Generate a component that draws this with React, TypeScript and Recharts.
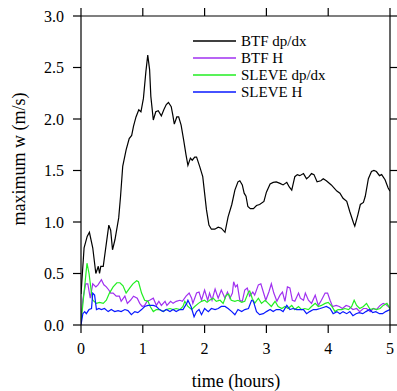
import React from "react";
import { LineChart, Line, XAxis, YAxis } from "recharts";

// BTF dp/dx (black)
const btfDpdxTime = [
  0, 0.05, 0.1, 0.136, 0.19, 0.24, 0.28, 0.3, 0.32, 0.36, 0.45, 0.48, 0.51, 0.55, 0.61, 0.64, 0.675,
  0.73, 0.78, 0.82, 0.85, 0.89, 0.935, 0.97, 1.01, 1.05, 1.08, 1.11, 1.13, 1.17, 1.21, 1.25, 1.3,
  1.34, 1.38, 1.415, 1.46, 1.485, 1.51, 1.55, 1.58, 1.62, 1.66, 1.7, 1.73, 1.77, 1.8, 1.84, 1.87,
  1.92, 1.97, 2.0, 2.03, 2.07, 2.11, 2.165, 2.22, 2.27, 2.33, 2.38, 2.44, 2.49, 2.54, 2.57, 2.61,
  2.64, 2.67, 2.7, 2.74, 2.79, 2.84, 2.89, 2.96, 3.0, 3.06, 3.11, 3.16, 3.22, 3.27, 3.33, 3.37,
  3.41, 3.46, 3.5, 3.54, 3.6, 3.65, 3.69, 3.73, 3.77, 3.82, 3.88, 3.92, 3.97, 4.05, 4.14, 4.19,
  4.24, 4.3, 4.35, 4.41, 4.43, 4.48, 4.52, 4.57, 4.6, 4.65, 4.7, 4.74, 4.78, 4.83, 4.865, 4.92,
  4.97, 5.0,
];
const btfDpdxValue = [
  0.3, 0.75, 0.86, 0.9, 0.75, 0.5, 0.57, 0.5, 0.57, 0.57, 0.97, 0.92, 0.73, 0.83, 1.04, 1.25, 1.54,
  1.7, 1.81, 1.84, 1.93, 2.02, 2.09, 2.07, 2.2, 2.46, 2.62, 2.48, 2.22, 1.99, 2.07, 2.08, 2.03,
  2.09, 2.14, 2.16, 2.12, 2.04, 1.95, 2.02, 2.02, 1.94, 1.8, 1.65, 1.55, 1.62, 1.6, 1.63, 1.63,
  1.54, 1.44, 1.28, 1.12, 0.97, 0.93, 0.93, 0.95, 0.94, 0.9, 1.05, 1.17, 1.31, 1.39, 1.4, 1.36,
  1.28, 1.25, 1.15, 1.13, 1.13, 1.16, 1.17, 1.2, 1.29, 1.37, 1.385, 1.39, 1.375, 1.36, 1.385, 1.34,
  1.31, 1.44, 1.46, 1.45, 1.47, 1.42, 1.44, 1.47, 1.46, 1.39, 1.4, 1.42, 1.4, 1.36, 1.3, 1.28,
  1.23, 1.2, 1.1, 0.99, 0.96, 1.07, 1.17, 1.19, 1.25, 1.42, 1.49, 1.5, 1.49, 1.45, 1.46, 1.41,
  1.33, 1.3,
];

// BTF H (purple)
const btfHTime = [
  0, 0.03, 0.076, 0.11, 0.15, 0.19, 0.24, 0.275, 0.33, 0.37, 0.41, 0.45, 0.48, 0.52, 0.57, 0.62,
  0.65, 0.71, 0.75, 0.8, 0.85, 0.91, 0.95, 0.99, 1.03, 1.07, 1.11, 1.17, 1.22, 1.26, 1.3, 1.36,
  1.39, 1.45, 1.49, 1.54, 1.6, 1.64, 1.7, 1.75, 1.79, 1.81, 1.87, 1.91, 1.95, 2.0, 2.05, 2.08,
  2.12, 2.17, 2.22, 2.27, 2.33, 2.37, 2.41, 2.45, 2.47, 2.5, 2.53, 2.57, 2.61, 2.65, 2.69, 2.73,
  2.78, 2.81, 2.87, 2.91, 2.95, 2.99, 3.04, 3.08, 3.12, 3.17, 3.22, 3.26, 3.3, 3.34, 3.38, 3.42,
  3.46, 3.52, 3.55, 3.6, 3.63, 3.68, 3.73, 3.79, 3.84, 3.89, 3.95, 3.99, 4.03, 4.07, 4.13, 4.18,
  4.23, 4.29, 4.34, 4.4, 4.46, 4.51, 4.57, 4.62, 4.68, 4.73, 4.78, 4.84, 4.89, 4.93, 4.97, 5.0,
];
const btfHValue = [
  0.05, 0.25, 0.4, 0.4, 0.26, 0.4, 0.37, 0.39, 0.44, 0.39, 0.37, 0.34, 0.31, 0.31, 0.28, 0.28,
  0.23, 0.28, 0.21, 0.24, 0.28, 0.26, 0.21, 0.18, 0.19, 0.23, 0.24, 0.26, 0.19, 0.23, 0.19, 0.23,
  0.19, 0.23, 0.21, 0.23, 0.24, 0.23, 0.28, 0.31, 0.26, 0.21, 0.31, 0.32, 0.24, 0.34, 0.24, 0.31,
  0.24, 0.35, 0.26, 0.34, 0.26, 0.32, 0.26, 0.31, 0.42, 0.37, 0.39, 0.24, 0.23, 0.34, 0.36, 0.28,
  0.32, 0.29, 0.39, 0.4, 0.32, 0.24, 0.32, 0.4, 0.31, 0.23, 0.29, 0.32, 0.23, 0.37, 0.36, 0.24,
  0.23, 0.31, 0.26, 0.24, 0.31, 0.24, 0.21, 0.29, 0.19, 0.24, 0.31, 0.31, 0.24, 0.18, 0.19, 0.18,
  0.16, 0.19, 0.18, 0.15, 0.16, 0.13, 0.16, 0.16, 0.13, 0.16, 0.15, 0.19, 0.21, 0.2, 0.18, 0.16,
];

// SLEVE dp/dx (green)
const sleveDpdxTime = [
  0, 0.097, 0.13, 0.17, 0.19, 0.25, 0.3, 0.36, 0.41, 0.46, 0.52, 0.58, 0.63, 0.68, 0.73, 0.79,
  0.84, 0.9, 0.93, 0.98, 1.03, 1.085, 1.12, 1.17, 1.22, 1.27, 1.33, 1.38, 1.44, 1.49, 1.54, 1.6,
  1.65, 1.68, 1.73, 1.79, 1.84, 1.9, 1.95, 2.0, 2.04, 2.08, 2.14, 2.19, 2.25, 2.3, 2.35, 2.39,
  2.43, 2.49, 2.54, 2.6, 2.65, 2.71, 2.73, 2.77, 2.81, 2.87, 2.92, 2.98, 3.03, 3.08, 3.14, 3.19,
  3.25, 3.3, 3.35, 3.41, 3.46, 3.52, 3.57, 3.62, 3.68, 3.73, 3.79, 3.84, 3.89, 3.95, 4.0, 4.06,
  4.11, 4.16, 4.22, 4.27, 4.33, 4.38, 4.42, 4.46, 4.51, 4.57, 4.62, 4.68, 4.73, 4.78, 4.84, 4.89,
  4.95, 5.0,
];
const sleveDpdxValue = [
  0.02, 0.6, 0.5, 0.31, 0.24, 0.21, 0.22, 0.21, 0.24, 0.31, 0.37, 0.41, 0.41, 0.38, 0.31, 0.36,
  0.4, 0.43, 0.42, 0.31, 0.24, 0.23, 0.18, 0.13, 0.15, 0.15, 0.13, 0.15, 0.16, 0.15, 0.16, 0.15,
  0.18, 0.23, 0.18, 0.15, 0.18, 0.21, 0.23, 0.24, 0.22, 0.24, 0.26, 0.23, 0.24, 0.21, 0.29, 0.3,
  0.24, 0.23, 0.24, 0.22, 0.23, 0.32, 0.33, 0.26, 0.21, 0.26, 0.21, 0.24, 0.21, 0.18, 0.23, 0.18,
  0.16, 0.18, 0.16, 0.19, 0.15, 0.18, 0.15, 0.16, 0.15, 0.18, 0.21, 0.18, 0.19, 0.21, 0.22, 0.18,
  0.13, 0.15, 0.15, 0.16, 0.15, 0.18, 0.24, 0.19, 0.16, 0.18, 0.21, 0.15, 0.16, 0.15, 0.16, 0.19,
  0.21, 0.16,
];

// SLEVE H (blue)
const sleveHTime = [
  0, 0.03, 0.06, 0.086, 0.13, 0.17, 0.19, 0.22, 0.25, 0.29, 0.33, 0.38, 0.44, 0.49, 0.545, 0.6,
  0.65, 0.71, 0.76, 0.815, 0.87, 0.92, 0.98, 1.03, 1.085, 1.17, 1.22, 1.27, 1.33, 1.38, 1.44,
  1.49, 1.54, 1.6, 1.65, 1.71, 1.73, 1.78, 1.83, 1.87, 1.91, 1.95, 2.0, 2.06, 2.11, 2.17, 2.22,
  2.27, 2.33, 2.38, 2.44, 2.49, 2.54, 2.6, 2.65, 2.71, 2.76, 2.79, 2.84, 2.89, 2.95, 3.0, 3.06,
  3.11, 3.16, 3.22, 3.27, 3.33, 3.38, 3.43, 3.49, 3.54, 3.6, 3.65, 3.7, 3.76, 3.81, 3.87, 3.92,
  3.97, 4.03, 4.08, 4.14, 4.19, 4.24, 4.3, 4.35, 4.4, 4.45, 4.5, 4.56, 4.61, 4.67, 4.72, 4.77,
  4.83, 4.88, 4.93, 5.0,
];
const sleveHValue = [
  0.0, 0.11, 0.13, 0.11, 0.15, 0.16, 0.31, 0.29, 0.15, 0.16, 0.15, 0.16, 0.13, 0.15, 0.13, 0.14,
  0.13, 0.15, 0.14, 0.1, 0.13, 0.12, 0.15, 0.18, 0.19, 0.19, 0.18, 0.15, 0.13, 0.15, 0.13,
  0.15, 0.13, 0.15, 0.15, 0.21, 0.24, 0.18, 0.08, 0.13, 0.15, 0.1, 0.16, 0.13, 0.16, 0.15, 0.16,
  0.18, 0.18, 0.16, 0.13, 0.1, 0.15, 0.13, 0.15, 0.16, 0.24, 0.23, 0.13, 0.1, 0.11, 0.13, 0.15,
  0.13, 0.15, 0.15, 0.13, 0.19, 0.15, 0.16, 0.15, 0.15, 0.15, 0.11, 0.13, 0.15, 0.15, 0.16, 0.17,
  0.18, 0.16, 0.11, 0.13, 0.11, 0.13, 0.11, 0.13, 0.09, 0.11, 0.12, 0.11, 0.13, 0.15, 0.12, 0.13,
  0.11, 0.11, 0.13, 0.15,
];

const xTicks = [0, 1, 2, 3, 4, 5];
const yTicks = [0, 0.5, 1, 1.5, 2, 2.5, 3];
const X_MAX = 5;
const Y_MAX = 3;

// plot box in pixels (matches the chart margins + axis sizes below)
const BOX = { left: 81, top: 16, right: 390, bottom: 325 };
const TICK_LEN = 8;

const toPoints = (time: number[], value: number[]) =>
  time.map((t, i) => ({ t, v: value[i] }));

const series = [
  { name: "BTF dp/dx", color: "#000000", data: toPoints(btfDpdxTime, btfDpdxValue) },
  { name: "BTF H", color: "#a030f0", data: toPoints(btfHTime, btfHValue) },
  { name: "SLEVE dp/dx", color: "#22ee22", data: toPoints(sleveDpdxTime, sleveDpdxValue) },
  { name: "SLEVE H", color: "#0818ff", data: toPoints(sleveHTime, sleveHValue) },
];

const FONT = "Liberation Serif, DejaVu Serif, serif";

const XTick = (props: any) => (
  <text
    x={props.x}
    y={props.y}
    dy="0.71em"
    textAnchor="middle"
    fontSize={16}
    fontFamily={FONT}
    fill="#000"
  >
    {props.payload.value}
  </text>
);

const YTick = (props: any) => (
  <text
    x={props.x}
    y={props.y}
    dy="0.35em"
    textAnchor="end"
    fontSize={16}
    fontFamily={FONT}
    fill="#000"
  >
    {Number(props.payload.value).toFixed(1)}
  </text>
);

// frame, legend and titles drawn in a plain svg laid over the chart
const Overlay = () => {
  const w = BOX.right - BOX.left;
  const h = BOX.bottom - BOX.top;
  return (
    <svg
      width={397}
      height={391}
      style={{ position: "absolute", left: 0, top: 0, pointerEvents: "none" }}
    >
      <g stroke="#000" strokeWidth={1.2} fill="none">
        <line x1={BOX.left} x2={BOX.right} y1={BOX.top} y2={BOX.top} />
        <line x1={BOX.right} x2={BOX.right} y1={BOX.top} y2={BOX.bottom} />
        {xTicks.map((t) => {
          const x = BOX.left + (t / X_MAX) * w;
          return <line key={`t${t}`} x1={x} x2={x} y1={BOX.top} y2={BOX.top - TICK_LEN} />;
        })}
        {yTicks.map((v) => {
          const y = BOX.bottom - (v / Y_MAX) * h;
          return <line key={`r${v}`} x1={BOX.right} x2={BOX.right + TICK_LEN} y1={y} y2={y} />;
        })}
      </g>
      {series.map((s, i) => (
        <g key={s.name}>
          <line x1={193} x2={236} y1={41 + i * 17} y2={41 + i * 17} stroke={s.color} strokeWidth={1.3} />
          <text x={241} y={46 + i * 17} fontSize={15} fontFamily={FONT} fill="#000">
            {s.name}
          </text>
        </g>
      ))}
      <text
        x={0}
        y={0}
        transform="translate(25,159) rotate(-90)"
        textAnchor="middle"
        fontSize={18}
        fontFamily={FONT}
        fill="#000"
      >
        maximum w (m/s)
      </text>
      <text x={236} y={387} textAnchor="middle" fontSize={18} fontFamily={FONT} fill="#000">
        time (hours)
      </text>
    </svg>
  );
};

export default function App() {
  return (
    <div
      style={{
        position: "absolute",
        left: 0,
        top: 0,
        width: 397,
        height: 391,
        background: "#fff",
        fontFamily: FONT,
      }}
    >
      <LineChart
        width={397}
        height={391}
        margin={{ top: 16, right: 7, bottom: 36, left: 21 }}
      >
        <XAxis
          dataKey="t"
          type="number"
          domain={[0, X_MAX]}
          ticks={xTicks}
          allowDataOverflow
          height={30}
          stroke="#000"
          strokeWidth={1.2}
          tickSize={8}
          tickMargin={10}
          tick={<XTick />}
        />
        <YAxis
          type="number"
          domain={[0, Y_MAX]}
          ticks={yTicks}
          allowDataOverflow
          width={60}
          stroke="#000"
          strokeWidth={1.2}
          tickSize={8}
          tickMargin={9}
          tick={<YTick />}
        />
        {series.map((s) => (
          <Line
            key={s.name}
            data={s.data}
            dataKey="v"
            name={s.name}
            type="linear"
            stroke={s.color}
            strokeWidth={1.2}
            dot={false}
            activeDot={false}
            isAnimationActive={false}
          />
        ))}
      </LineChart>
      <Overlay />
    </div>
  );
}
